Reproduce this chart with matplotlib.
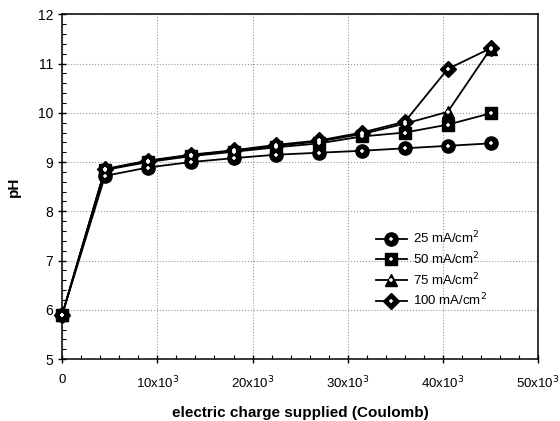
import matplotlib
matplotlib.use("Agg")
import matplotlib.pyplot as plt
from matplotlib.ticker import MultipleLocator, FuncFormatter

plt.rcParams['font.family'] = ['Liberation Sans', 'DejaVu Sans']

# charge supplied (C) and pH readings for each current density
charge = [0, 4500, 9000, 13500, 18000, 22500, 27000, 31500, 36000, 40500, 45000]
ph_25 = [5.9, 8.72, 8.89, 9.0, 9.08, 9.15, 9.19, 9.23, 9.28, 9.33, 9.38]
ph_50 = [5.9, 8.84, 9.0, 9.12, 9.21, 9.3, 9.38, 9.52, 9.6, 9.76, 9.99]
ph_75 = [5.9, 8.85, 9.02, 9.14, 9.23, 9.33, 9.42, 9.57, 9.78, 10.02, 11.3]
ph_100 = [5.9, 8.86, 9.03, 9.15, 9.24, 9.35, 9.44, 9.6, 9.82, 10.89, 11.31]
labels = ['25 mA/cm$^2$', '50 mA/cm$^2$', '75 mA/cm$^2$', '100 mA/cm$^2$']
markers = ['o', 's', '^', 'D']
sizes = [9.5, 8.5, 9, 8.5]

fig = plt.figure(figsize=(5.6, 4.21), dpi=100)
ax = fig.add_axes([0.111, 0.147, 0.85, 0.819])

handles = []
for ys, lab, m, ms in zip([ph_25, ph_50, ph_75, ph_100], labels, markers, sizes):
    ln, = ax.plot(charge, ys, color='black', lw=1.3, marker=m, ms=ms,
                  mfc='black', mec='black', zorder=3, clip_on=False)
    dot, = ax.plot(charge, ys, ls='none', marker='+', ms=3.5, mew=1.1,
                   color='white', zorder=4, clip_on=False)
    handles.append((ln, dot))

ax.set_xlim(0, 50000)
ax.set_ylim(5, 12)
ax.xaxis.set_major_locator(MultipleLocator(10000))
ax.xaxis.set_minor_locator(MultipleLocator(2000))
ax.yaxis.set_major_locator(MultipleLocator(1))
ax.yaxis.set_minor_locator(MultipleLocator(0.2))


def fmt_x(v, pos):
    if v == 0:
        return '0'
    return '%dx10$^3$' % int(round(v / 1000))


ax.xaxis.set_major_formatter(FuncFormatter(fmt_x))
ax.tick_params(which='major', direction='inout', length=6, width=1, labelsize=10)
ax.tick_params(axis='x', labelsize=9.5, pad=8)
ax.tick_params(which='minor', direction='in', length=3, width=0.8)
ax.grid(True, which='major', ls=':', color='#999999', lw=0.8)
for s in ax.spines.values():
    s.set_linewidth(1.1)

ax.set_xlabel('electric charge supplied (Coulomb)', fontsize=11, fontweight='bold', labelpad=11)
ax.set_ylabel('pH', fontsize=11, fontweight='bold', labelpad=12)

ax.legend(handles, labels, loc='center left', bbox_to_anchor=(0.635, 0.261),
          frameon=False, fontsize=9.5, handlelength=2.3, labelspacing=0.32,
          handletextpad=0.5)

fig.savefig('out.png', dpi=100)
